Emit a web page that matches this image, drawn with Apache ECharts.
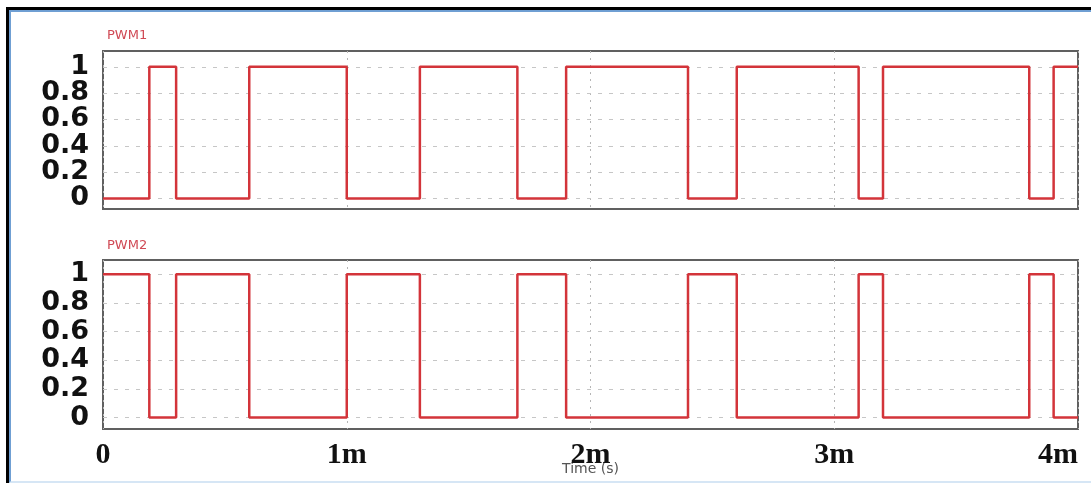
<!DOCTYPE html>
<html>
<head>
<meta charset="utf-8">
<script src="https://cdn.jsdelivr.net/npm/echarts@6/dist/echarts.min.js"></script>
<style>
  html, body { margin: 0; padding: 0; background: #fff; }
  #frameOuter { position: absolute; left: 6px; top: 7px; width: 1085px; height: 476px;
    border-top: 3px solid #000; border-left: 3px solid #000; box-sizing: border-box; }
  #frameInner { position: absolute; left: 0; top: 0; right: 0; bottom: 0;
    border-top: 2px solid #6f9fd3; border-left: 2px solid #6f9fd3; border-bottom: 2px solid #d6e6f5; }
  #chart { position: absolute; left: 0; top: 0; width: 1091px; height: 485px; }
</style>
</head>
<body>
<div id="frameOuter"><div id="frameInner"></div></div>
<div id="chart"></div>
<script>
// ---- data ----
const panelTitles = ['PWM1', 'PWM2'];
const switchTimes = [0, 0.19, 0.30, 0.60, 1.00, 1.30, 1.70, 1.90, 2.40, 2.60, 3.10, 3.20, 3.80, 3.90, 4.00]; // ms
const pwm1Levels  = [0, 1, 0, 1, 0, 1, 0, 1, 0, 1, 0, 1, 0, 1, 1];
const pwm2Levels  = [1, 0, 1, 0, 1, 0, 1, 0, 1, 0, 1, 0, 1, 0, 0];
const xTickValues = [0, 1, 2, 3, 4];
const xTickLabels = ['0', '1m', '2m', '3m', '4m'];
const yTickValues = [0, 0.2, 0.4, 0.6, 0.8, 1];
const yTickLabels = ['0', '0.2', '0.4', '0.6', '0.8', '1'];
const xAxisName = 'Time (s)';

function pairs(levels) { return switchTimes.map((t, i) => [t, levels[i]]); }

const RED = '#d3343a';
const yLabelFmt = function (v) {
  for (let i = 0; i < yTickValues.length; i++) {
    if (Math.abs(v - yTickValues[i]) < 1e-6) return yTickLabels[i];
  }
  return '';
};
const xLabelFmt = function (v) {
  for (let i = 0; i < xTickValues.length; i++) {
    if (Math.abs(v - xTickValues[i]) < 1e-6) return xTickLabels[i];
  }
  return '';
};

function xAxisCfg(gridIndex, showLabels) {
  return {
    type: 'value', gridIndex: gridIndex, min: 0, max: 4, interval: 1,
    axisLine: { show: false }, axisTick: { show: false },
    splitLine: { show: true, lineStyle: { type: [2, 5], color: '#b5b5b5', width: 1 } },
    axisLabel: {
      show: showLabels, formatter: xLabelFmt, margin: 11,
      fontFamily: 'Liberation Serif', fontWeight: 'bold', fontSize: 30, color: '#111',
      alignMinLabel: 'center', alignMaxLabel: 'right'
    },
    name: showLabels ? xAxisName : '', nameLocation: 'middle', nameGap: 33, nameMoveOverlap: false,
    nameTextStyle: { fontFamily: 'DejaVu Sans', fontSize: 14, color: '#555' }
  };
}
function yAxisCfg(gridIndex, min, max) {
  return {
    type: 'value', gridIndex: gridIndex, min: min, max: max, interval: 0.02,
    axisLine: { show: false }, axisTick: { show: false }, splitLine: { show: false },
    axisLabel: {
      formatter: yLabelFmt, margin: 14,
      fontFamily: 'DejaVu Sans', fontWeight: 'bold', fontSize: 27, color: '#111'
    }
  };
}
function gridLinesSeries(idx) {
  return {
    type: 'line', xAxisIndex: idx, yAxisIndex: idx, data: [], z: 1, silent: true,
    markLine: {
      z: 1, silent: true, symbol: 'none', label: { show: false }, animation: false,
      lineStyle: { type: [4, 7], color: '#c6c6c6', width: 1 },
      data: yTickValues.map(v => ({ yAxis: v }))
    }
  };
}
function pwmSeries(idx, levels, name) {
  return {
    type: 'line', name: name, xAxisIndex: idx, yAxisIndex: idx, step: 'end',
    data: pairs(levels), showSymbol: false, z: 10, animation: false,
    lineStyle: { color: RED, width: 2.5 }
  };
}

const chart = echarts.init(document.getElementById('chart'), null, { renderer: 'canvas' });
chart.setOption({
  backgroundColor: 'transparent',
  animation: false,
  title: [
    { text: panelTitles[0], left: 102, top: 24, textStyle: { fontFamily: 'DejaVu Sans', fontSize: 13, fontWeight: 'normal', color: '#d04a55' } },
    { text: panelTitles[1], left: 102, top: 234, textStyle: { fontFamily: 'DejaVu Sans', fontSize: 13, fontWeight: 'normal', color: '#d04a55' } }
  ],
  grid: [
    { left: 103, right: 13, top: 51, height: 158, show: true, borderColor: '#606060', borderWidth: 2, backgroundColor: 'transparent' },
    { left: 103, right: 13, top: 260, height: 169, show: true, borderColor: '#606060', borderWidth: 2, backgroundColor: 'transparent' }
  ],
  xAxis: [xAxisCfg(0, false), xAxisCfg(1, true)],
  yAxis: [yAxisCfg(0, -0.08, 1.12), yAxisCfg(1, -0.08, 1.10)],
  series: [
    gridLinesSeries(0), gridLinesSeries(1),
    pwmSeries(0, pwm1Levels, panelTitles[0]),
    pwmSeries(1, pwm2Levels, panelTitles[1])
  ]
});
</script>
</body>
</html>
